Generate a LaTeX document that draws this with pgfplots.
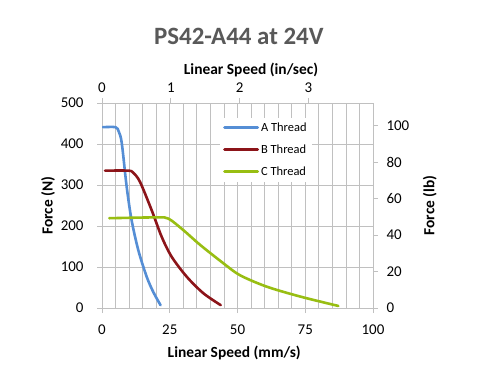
\documentclass[border=0pt]{standalone}
\usepackage{pgfplots}
\pgfplotsset{compat=1.18}
\usepackage{fontspec}
\setmainfont{Carlito}
\definecolor{athread}{RGB}{85,142,213}
\definecolor{bthread}{RGB}{140,20,25}
\definecolor{cthread}{RGB}{152,190,18}
\definecolor{gridc}{RGB}{192,192,192}
\definecolor{titlec}{RGB}{89,89,89}
\begin{document}
\begin{tikzpicture}
\useasboundingbox[fill=white] (0,0) rectangle (500bp,375bp);
\node[font=\fontsize{25}{29}\selectfont\bfseries, text=titlec] at (238.8bp,339bp) {PS42-A44 at 24V};
\pgfplotsset{every axis/.append style={scale only axis, width=271bp, height=205bp,
  at={(102bp,67bp)}, anchor=south west,
  /pgf/number format/assume math mode=true,
  tick label style={font=\fontsize{15}{17}\selectfont},
  label style={font=\fontsize{15.5}{18}\selectfont\bfseries},
  axis line style={gridc, line width=0.75bp}, major tick style={gridc, line width=0.75bp},
  tick align=outside, major tick length=5bp}}
\begin{axis}[xmin=0,xmax=100,ymin=0,ymax=500,
  axis x line*=bottom, axis y line*=left,
  xtick={0,25,50,75,100}, ytick={0,100,200,300,400,500},
  xticklabel style={yshift=-8bp}, yticklabel style={xshift=-10bp},
  minor x tick num=4, minor tick length=0pt,
  xmajorgrids, xminorgrids, ymajorgrids,
  major grid style={gridc, line width=0.75bp}, minor grid style={gridc, line width=0.75bp},
  xlabel={Linear Speed (mm/s)}, ylabel={Force (N)},
  xlabel style={at={(axis description cs:0.488,-0.22)}, anchor=center},
  ylabel style={at={(axis description cs:-0.199,0.5)}, anchor=center},
  legend style={at={(0.435,0.93)}, anchor=north west, draw=none, fill=white,
    font=\fontsize{12.5}{14}\selectfont, row sep=8bp, inner sep=3bp},
  legend cell align=left,
  legend image code/.code={\draw[#1, line width=3bp] (0bp,0bp) -- (33bp,0bp);},
]
\addplot[athread, line width=2.6bp, smooth, line cap=round] coordinates {
(0.3,441) (5.0,441) (6.2,430) (7.3,402) (9.1,296) (10.9,215) (13.4,141) (16.5,76) (19,38) (21.6,7)};
\addlegendentry{A Thread}
\addplot[bthread, line width=2.6bp, smooth, line cap=round] coordinates {
(1.1,335) (9.7,335) (11.5,330) (14,308) (18.3,239) (22,174) (25.7,125) (31.3,76) (37.4,36) (43.8,7)};
\addlegendentry{B Thread}
\addplot[cthread, line width=2.6bp, smooth, line cap=round] coordinates {
(2.7,219) (20.2,221) (24.5,218) (30,190) (36.2,154) (44.8,109) (50.9,80) (60.8,52) (73.1,28) (87.2,5)};
\addlegendentry{C Thread}
\end{axis}
\begin{axis}[xmin=0,xmax=3.937,ymin=0,ymax=112.405,
  axis x line*=top, axis y line*=right,
  xtick={0,1,2,3}, ytick={0,20,40,60,80,100},
  xticklabel style={yshift=2bp}, yticklabel style={xshift=5bp},
  xlabel={Linear Speed (in/sec)}, ylabel={Force (lb)},
  xlabel style={at={(axis description cs:0.55,1.163)}, anchor=center},
  ylabel style={at={(axis description cs:1.21,0.5)}, anchor=center},
]
\end{axis}
\end{tikzpicture}
\end{document}
